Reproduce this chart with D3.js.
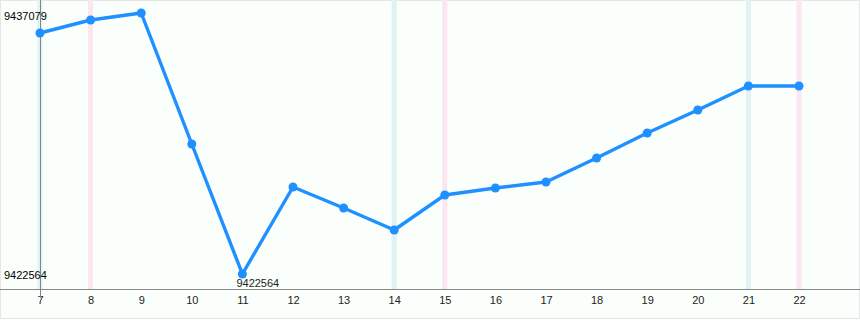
<!DOCTYPE html>
<html>
<head>
<meta charset="utf-8">
<script src="https://cdn.jsdelivr.net/npm/d3@7"></script>
<style>
  body { margin: 0; background: #fff; }
  svg { display: block; font-family: "Liberation Sans", Arial, sans-serif; }
</style>
</head>
<body>
<svg id="chart" width="860" height="320"></svg>
<script>
// day of month on the x axis
const days = [7, 8, 9, 10, 11, 12, 13, 14, 15, 16, 17, 18, 19, 20, 21, 22];
const values = [9435967, 9436690, 9437079, 9429794, 9422564, 9427402, 9426234, 9425011,
                9426957, 9427346, 9427680, 9429015, 9430405, 9431684, 9433019, 9433019];
// weekend markers
const blueDays = [7, 14, 21];
const pinkDays = [8, 15, 22];

const width = 860, height = 320;
const axisY = 289;

const svg = d3.select('#chart');

const x = d3.scaleLinear().domain([7, 22]).range([40, 799]);
const yMin = d3.min(values), yMax = d3.max(values);
const y = d3.scaleLinear().domain([yMin, yMax]).range([274, 13]);

// background
svg.append('rect')
  .attr('x', 0).attr('y', 0)
  .attr('width', width).attr('height', height)
  .attr('fill', '#fbfffb');
svg.append('rect')
  .attr('x', 0.5).attr('y', 0.5)
  .attr('width', width - 1).attr('height', height - 2)
  .attr('fill', 'none')
  .attr('stroke', '#e6e6e6');

// day bands
svg.selectAll('rect.blue').data(blueDays).enter().append('rect')
  .attr('class', 'blue')
  .attr('x', d => x(d) - 2.5).attr('y', 0)
  .attr('width', 5).attr('height', axisY)
  .attr('fill', '#e2f1f3');
svg.selectAll('rect.pink').data(pinkDays).enter().append('rect')
  .attr('class', 'pink')
  .attr('x', d => x(d) - 2.5).attr('y', 0)
  .attr('width', 5).attr('height', axisY)
  .attr('fill', '#fde6f1');

// x axis
const xAxis = d3.axisBottom(x).tickValues(days).tickSize(0).tickPadding(7).tickFormat(d3.format('d'));
const gx = svg.append('g').attr('transform', `translate(0,${axisY})`).call(xAxis);
gx.select('.domain').remove();
gx.selectAll('text').attr('font-size', 11).attr('fill', '#222').attr('font-family', null);
svg.append('line')
  .attr('x1', 0).attr('x2', width)
  .attr('y1', axisY + 0.5).attr('y2', axisY + 0.5)
  .attr('stroke', '#888');

// y axis line
svg.append('line')
  .attr('x1', x(7) + 0.5).attr('x2', x(7) + 0.5)
  .attr('y1', 0).attr('y2', 298)
  .attr('stroke', '#7a8a8a');

// min / max labels
svg.append('text').attr('x', 4).attr('y', 20)
  .attr('font-size', 11).attr('fill', '#000').text(yMax);
svg.append('text').attr('x', 4).attr('y', 279)
  .attr('font-size', 11).attr('fill', '#000').text(yMin);

// line
const line = d3.line().x((d, i) => x(days[i])).y(d => y(d));
svg.append('path')
  .datum(values)
  .attr('d', line)
  .attr('fill', 'none')
  .attr('stroke', '#1e90ff')
  .attr('stroke-width', 3.4)
  .attr('stroke-linejoin', 'round');

svg.selectAll('circle.pt').data(values).enter().append('circle')
  .attr('class', 'pt')
  .attr('cx', (d, i) => x(days[i]))
  .attr('cy', d => y(d))
  .attr('r', 4.5)
  .attr('fill', '#1e90ff');

// label under the lowest point
const iMin = values.indexOf(yMin);
svg.append('text')
  .attr('x', x(days[iMin]) - 6).attr('y', 287)
  .attr('font-size', 11).attr('fill', '#222').text(yMin);
</script>
</body>
</html>
